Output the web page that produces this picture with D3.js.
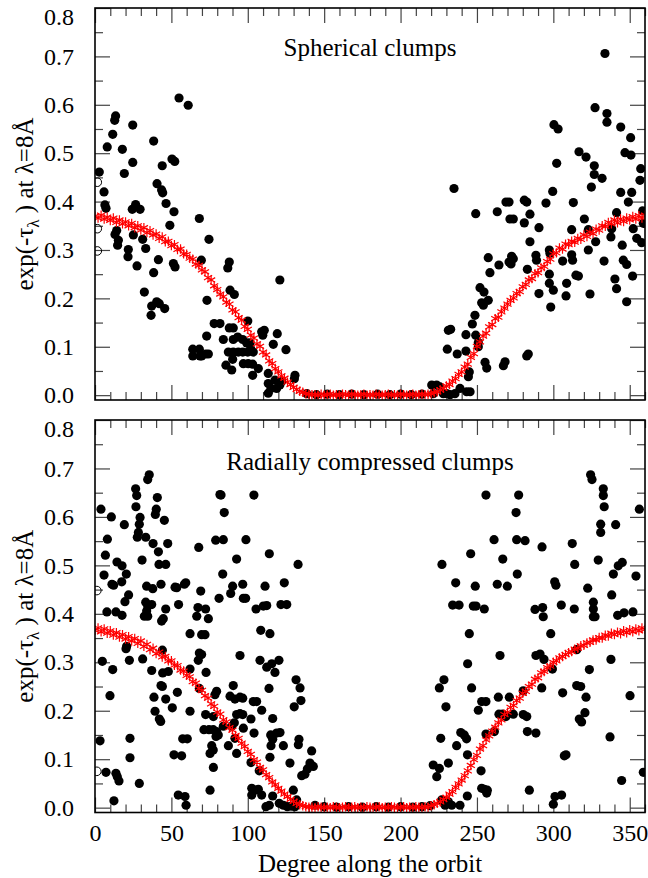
<!DOCTYPE html>
<html><head><meta charset="utf-8">
<script src="https://cdn.jsdelivr.net/npm/d3@7"></script>
<style>
body{margin:0;background:#fff}
svg{display:block}
text{font-family:"Liberation Serif","Times New Roman",serif;fill:#000}
</style>
</head><body>
<svg id="c" width="648" height="878"></svg>
<script>
// ---------------- DATA ----------------
const xMajorTicks = [0,50,100,150,200,250,300,350];
const xMinorTicks = [10,20,30,40,60,70,80,90,110,120,130,140,160,170,180,190,210,220,230,240,260,270,280,290,310,320,330,340,360];
const yMajorTicks = [0,0.1,0.2,0.3,0.4,0.5,0.6,0.7,0.8];
const yMinorTicks = [0.05,0.15,0.25,0.35,0.45,0.55,0.65,0.75];
const panelTitles = ["Spherical clumps","Radially compressed clumps"];
const xTitle = "Degree along the orbit";

// red asterisks: model values at every 2 degrees
const redAngles = d3.range(0, 361, 2);
const redSpherical = [
.370,.366,.372,.364,.368,.361,.366,.357,.362,.354,
.358,.350,.355,.346,.350,.341,.346,.336,.340,.331,
.333,.324,.327,.317,.318,.309,.311,.301,.302,.292,
.291,.283,.281,.271,.268,.259,.255,.243,.238,.226,
.218,.209,.203,.192,.188,.176,.172,.160,.155,.142,
.136,.124,.118,.106,.101,.089,.083,.071,.065,.055,
.048,.040,.035,.027,.022,.016,.012,.008,.006,.003,
.002,.001,
.001,.000,.002,.000,.001,.002,.000,.001,.000,.002,
.001,.000,.002,.001,.000,.001,.002,.000,.001,.000,
.002,.001,.000,.001,.002,.000,.001,.000,.002,.001,
.000,.001,.002,.000,.001,.002,.001,.002,
.003,.005,.007,.011,.014,.019,.022,.029,.034,.043,
.048,.058,.064,.078,.086,.101,.110,.122,.128,.141,
.146,.158,.161,.172,.180,.188,.196,.201,.210,.214,
.224,.229,.238,.241,.251,.253,.263,.266,.276,.281,
.292,.294,.304,.302,.312,.311,.318,.316,.324,.322,
.331,.328,.337,.334,.343,.341,.350,.349,.357,.354,
.362,.356,.364,.359,.366,.362,.369,.364,.371,.366,
.372];
const redCompressed = [
.366,.371,.363,.369,.360,.365,.356,.361,.352,.357,
.348,.353,.344,.349,.339,.344,.333,.337,.326,.329,
.318,.321,.311,.312,.303,.303,.294,.293,.284,.282,
.273,.270,.260,.257,.246,.242,.231,.226,.214,.209,
.197,.193,.181,.177,.165,.160,.149,.143,.133,.126,
.116,.110,.099,.094,.083,.078,.068,.062,.053,.047,
.040,.034,.028,.023,.017,.013,.009,.006,.004,.002,
.001,.001,
.000,.002,.001,.000,.001,.000,.002,.001,.000,.001,
.002,.000,.001,.002,.000,.001,.000,.002,.001,.000,
.001,.002,.000,.001,.000,.002,.001,.000,.001,.002,
.000,.001,.000,.002,.001,.000,.002,.001,
.004,.006,.009,.012,.017,.021,.028,.033,.042,.049,
.057,.066,.076,.087,.099,.108,.121,.128,.140,.148,
.158,.166,.175,.181,.192,.197,.207,.211,.221,.226,
.236,.240,.250,.255,.265,.268,.278,.281,.289,.292,
.300,.303,.309,.312,.316,.320,.322,.327,.329,.334,
.335,.340,.341,.346,.346,.351,.350,.356,.354,.360,
.357,.362,.359,.365,.361,.367,.363,.369,.365,.371,
.368];

// black dots [degree, exp(-tau)]
const dotsSpherical = [
[55,0.614],[61,0.599],[13.5,0.577],[12.9,0.568],[11.6,0.539],[24.7,0.558],[38.4,0.525],[8,0.513],[17.9,0.508],[24.7,0.481],
[19.2,0.458],[2.8,0.461],[50.4,0.488],[52.2,0.483],[44,0.474],[40.6,0.437],[43.6,0.424],[44.3,0.418],[5.9,0.42],[46.5,0.396],
[6.5,0.393],[26.6,0.394],[29.5,0.384],[24.4,0.384],[51.7,0.379],[68.3,0.365],[7.2,0.386],
[14.2,0.34],[13.1,0.332],[25.1,0.331],[15.3,0.32],[14.8,0.31],[49,0.351],[74.6,0.322],[31.2,0.322],[33.2,0.303],
[21.8,0.301],[21.6,0.286],[41.5,0.28],[51.3,0.272],[52.4,0.265],[27.5,0.267],[69.6,0.279],[38.4,0.253],[32.3,0.213],[73.3,0.196],
[37.1,0.184],[40.4,0.193],[42.1,0.189],[45.6,0.179],[36.7,0.165],[78,0.148],[81.8,0.148],[73.1,0.122],[64,0.095],[68.3,0.095],
[69.8,0.081],[72.5,0.085],[74.2,0.085],[64,0.081],[68.7,0.081],
[87.9,0.275],[86.9,0.263],[88.4,0.217],[91.2,0.208],[121,0.238],[100,0.153],[90.5,0.139],[87.9,0.139],[84,0.115],[90.5,0.115],
[93.4,0.12],[96.7,0.115],[99.3,0.108],[101.5,0.108],[109.1,0.131],[110.8,0.134],[109.8,0.124],[119.3,0.127],[116.7,0.105],[125,0.094],
[87.3,0.089],[90.5,0.089],[93.8,0.089],[96.7,0.089],[100,0.089],[103.6,0.089],[101.9,0.096],[85.7,0.062],[89.5,0.052],[90.1,0.074],
[97.1,0.065],[100.3,0.065],[103.2,0.064],[106.9,0.055],[103.2,0.041],[113.4,0.045],[130.9,0.041],[130.5,0.034],[113.4,0.024],[115.2,0.014],
[113.4,0.004],[117.8,0.031],[121,0.021],[118.9,0.014],[122.2,0.028],[138.6,0.003],
[145,0.001],[152,0.002],[160,0.001],[168,0.002],[176,0.001],[185,0.002],[193,0.001],[200,0.002],[207,0.001],[214,0.002],
[220.4,0.021],[223.6,0.021],[225.8,0.017],[230.2,0.003],[221.4,0.003],[231.3,0.134],[230.6,0.095],[228,0.003],[232.4,0.001],[235.6,0.003],
[333.8,0.706],[327.3,0.594],[335.1,0.582],[335.1,0.564],[300.4,0.559],[303.1,0.55],[344.1,0.554],[350.6,0.532],[316.8,0.503],[321.4,0.492],
[346.9,0.501],[350.8,0.496],[302.2,0.479],[326.8,0.474],[326.8,0.456],[331.9,0.448],[357.2,0.468],[356.7,0.444],[324.9,0.43],[235,0.427],
[299.6,0.421],[344.1,0.419],[351.3,0.419],[269,0.399],[271,0.399],[281,0.403],[282.6,0.399],[295.2,0.397],[313.1,0.398],[349.1,0.399],
[249.2,0.375],[263.3,0.379],[284.7,0.374],[341.4,0.377],[320.3,0.364],[271.6,0.364],[273.8,0.364],[358.5,0.381],
[281,0.356],[290.6,0.346],[312,0.342],[322.9,0.342],[327.7,0.317],[322.9,0.3],[338.2,0.344],[337.7,0.327],[352.3,0.344],[354.6,0.324],
[357.8,0.315],[358.9,0.355],[345.1,0.31],[284.7,0.317],[297.4,0.3],[297.8,0.293],[288.6,0.289],[289,0.279],[312,0.29],[312.6,0.279],
[306.1,0.277],[272.7,0.287],[273.8,0.282],[271,0.275],[272.3,0.271],[257.4,0.284],[264.4,0.269],[333.2,0.277],[345.8,0.279],[348,0.27],
[258.5,0.253],[283,0.26],[297.4,0.25],[351.9,0.246],[314.8,0.248],[316.4,0.246],[297.4,0.231],[300,0.217],[308.7,0.231],[308.3,0.205],
[290.6,0.21],[324,0.209],[340.3,0.24],[341.4,0.22],[348,0.193],[298.3,0.182],[252,0.222],[254.6,0.213],[257.4,0.196],[253.1,0.191],
[254.2,0.186],[248.7,0.165],[247,0.147],[242.8,0.125],[249.2,0.124],[232.8,0.136],[250.9,0.109],[250.9,0.1],[237.1,0.085],[242.8,0.091],
[255.3,0.068],[256.4,0.056],[268.4,0.069],[267.3,0.061],[283.6,0.085],[282.6,0.081],[245,0.048],[244.4,0.038],[238.9,0.014],[243.3,0.007],
[245.5,0.007]];
const openSpherical = [[1.5,0.44],[1.5,0.344],[1.5,0.298]];

const dotsCompressed = [
[35.5,0.687],[34.5,0.677],[26.6,0.658],[27.3,0.644],[40.8,0.64],[26.8,0.621],[3.9,0.616],[40.1,0.616],[39.5,0.605],[10.7,0.6],
[29.5,0.599],[45.4,0.593],[29,0.585],[19.2,0.584],[81.8,0.646],[28.4,0.568],[27.7,0.558],[33.2,0.558],[8.1,0.554],[47.6,0.545],
[38,0.545],[79,0.552],[67.9,0.537],[41.5,0.528],[6.8,0.521],[30.8,0.511],[14.4,0.507],[17.7,0.499],[41.9,0.502],[46.3,0.502],
[5.9,0.48],[20.5,0.482],[17.5,0.466],[11.1,0.461],[12.2,0.459],[33.8,0.457],[37.8,0.452],[43.2,0.461],[52.4,0.455],[53.5,0.454],
[58.5,0.461],[59.4,0.464],[69.2,0.447],[81.2,0.432],[22,0.439],[19.6,0.425],[33.2,0.424],[34.5,0.416],[37.1,0.419],[33.8,0.406],
[54.7,0.419],[67.4,0.413],[72.4,0.41],[7.8,0.404],[13.7,0.404],[17.7,0.397],[46.3,0.41],[32.3,0.395],[34.5,0.395],[66.6,0.395],
[74.2,0.39],[44.7,0.39],[43.6,0.385],
[62.2,0.359],[69.8,0.357],[72,0.357],[20.7,0.333],[20.3,0.328],[68.3,0.319],[69.8,0.316],[44.1,0.325],[4.8,0.302],[31.2,0.307],
[22.5,0.304],[67.6,0.304],[11.6,0.285],[37.1,0.283],[44.3,0.278],[48,0.281],[62.2,0.286],[68.3,0.246],[79.6,0.24],[43.2,0.252],
[44.1,0.25],[53.9,0.238],[9.8,0.231],[38.6,0.228],[46.3,0.224],[50.6,0.206],[62.2,0.199],[39.3,0.199],[42.1,0.183],[43,0.178],
[72.4,0.192],[77.5,0.188],[71.3,0.161],[74.6,0.161],[77.4,0.161],[79.6,0.157],[79.2,0.147],[80.7,0.15],[3.3,0.138],[22.9,0.143],
[57.4,0.142],[60.4,0.142],[76.4,0.128],[77.4,0.119],[75.3,0.112],[51.7,0.109],[56.7,0.107],[22.9,0.103],[77.5,0.083],[7.2,0.073],
[13.7,0.071],[14.6,0.064],[15.7,0.055],[29,0.05],[75.3,0.036],[54.5,0.026],[58.9,0.023],[59.6,0.005],[12.4,0.014],
[82.5,0.645],[104,0.645],[84.6,0.609],[84,0.553],[98.8,0.553],[114.1,0.524],[92.7,0.513],[132.9,0.502],[83.6,0.482],[227.1,0.502],
[123.9,0.464],[90.1,0.457],[96.7,0.461],[111.3,0.457],[88.8,0.442],[97.1,0.432],[98.6,0.432],[110.2,0.416],[112.4,0.417],[121.7,0.419],
[125.5,0.419],[105.4,0.41],
[108.5,0.366],[114.5,0.359],[94.9,0.314],[108,0.304],[112.4,0.29],[115.7,0.297],[120.4,0.304],[117.8,0.279],[72.7,0.279],[131.6,0.264],
[134.2,0.247],[134.8,0.221],[130.4,0.208],[113.9,0.246],[78.5,0.233],[90.5,0.252],[88.4,0.23],[91.6,0.224],[94.9,0.228],[96.7,0.226],
[103.6,0.219],[105.8,0.219],[109.1,0.201],[92.7,0.192],[94.9,0.194],[96.7,0.192],[102.1,0.183],[116.3,0.184],[84,0.168],[89.5,0.168],
[91.2,0.175],[97.1,0.164],[91.6,0.143],[104.1,0.154],[115,0.15],[118.9,0.154],[121.1,0.155],[116.3,0.141],[115.2,0.128],[123.3,0.128],
[133.5,0.141],[133.1,0.13],[140.7,0.092],[142.9,0.085],[139,0.08],[135.3,0.066],[137.4,0.069],[141.8,0.117],[87.3,0.128],[92.7,0.112],
[102.1,0.093],[107.5,0.076],[127.6,0.092],[114.5,0.104],[102.6,0.04],[104.7,0.036],[106.9,0.038],[109.1,0.026],[102.6,0.026],[116.3,0.024],
[111.9,0.002],[114.1,0.005],[129.8,0.036],[132,0.016],[120.6,0.009],[123.3,0.005],[125.9,0.002],[128.7,0.003],[130.9,0.002],[144,0.005],
[150,0.002],[158,0.001],[166,0.002],[175,0.001],[184,0.002],[192,0.001],[200,0.002],[208,0.001],[214,0.002],
[221.4,0.088],[225.4,0.081],[223.7,0.064],[231.3,0.092],[228.4,0.264],[225.4,0.247],[229.7,0.208],[226.3,0.143],[226.9,0.016],[229.1,0.005],
[219.3,0.004],
[324.4,0.687],[325.3,0.677],[332.7,0.658],[332.7,0.644],[255.9,0.645],[277.3,0.645],[275.6,0.609],[333.3,0.621],[356.3,0.616],[331,0.585],
[331,0.568],[340.8,0.584],[261.2,0.553],[276,0.553],[281.5,0.551],[292.6,0.538],[312.4,0.545],[245.9,0.524],[266.9,0.513],[314,0.502],
[329.4,0.511],[345.1,0.506],[342.5,0.499],[339.3,0.482],[276.4,0.482],[354.1,0.478],[236.1,0.464],[248.9,0.457],[263.3,0.461],[269.9,0.457],
[300.9,0.466],[301.7,0.459],[322.5,0.453],[338.2,0.439],[234.1,0.418],[238.3,0.418],[247.6,0.416],[249.4,0.416],[254.8,0.41],[288,0.409],
[293,0.413],[293.4,0.394],[305.2,0.418],[313.7,0.41],[326.2,0.424],[326.2,0.41],[326.2,0.394],[327.3,0.394],[342.1,0.397],[346.3,0.402],
[352.1,0.404],
[245,0.359],[298.3,0.359],[243.9,0.297],[265.1,0.314],[288.6,0.314],[291.3,0.317],[293.9,0.306],[315.3,0.326],[337.7,0.306],[299.4,0.286],
[323.6,0.285],[246.5,0.247],[292.4,0.247],[315.3,0.252],[317.9,0.25],[280.3,0.241],[306.1,0.237],[350.2,0.231],[264,0.228],[271.2,0.228],
[321.4,0.228],[253.1,0.219],[255.9,0.219],[250.9,0.201],[320.7,0.196],[264.4,0.193],[266.8,0.193],[269,0.188],[273.8,0.193],[280.3,0.192],
[282.6,0.188],[317,0.183],[318.5,0.177],[261.4,0.157],[283,0.157],[288.6,0.154],[255.9,0.152],[239.4,0.155],[241.7,0.15],[243.2,0.142],
[337.1,0.146],[236.7,0.128],[243.8,0.109],[307.2,0.107],[308.3,0.109],[252.7,0.076],[253.1,0.04],[254.8,0.038],[256.8,0.036],[256.4,0.03],
[284.3,0.036],[301.1,0.023],[300,0.007],[305.4,0.026],[344.7,0.056],[358.9,0.073],[243.7,0.024],[233.5,0.005],[238.9,0.005],[231.3,0.012]];
const openCompressed = [[1.2,0.448],[1.2,0.075]];

// ---------------- DRAW ----------------
const FONT = '"Liberation Serif","Times New Roman",serif';
const svg = d3.select("#c");
const x = d3.scaleLinear().domain([0,360]).range([95,645]);
const panels = [
  {title:panelTitles[0], dots:dotsSpherical, open:openSpherical, red:redSpherical, bottom:400, top:8, xLabels:false, titleY:56},
  {title:panelTitles[1], dots:dotsCompressed, open:openCompressed, red:redCompressed, bottom:812.5, top:420, xLabels:true, titleY:470}
];
const tickColor = "#444";

panels.forEach((p,i)=>{
  const y = d3.scaleLinear().domain([-0.01,0.8]).range([p.bottom,p.top]);
  const g = svg.append("g");
  const clipId = "clip"+i;
  svg.append("clipPath").attr("id",clipId).append("rect")
    .attr("x",x(0)).attr("y",p.top).attr("width",x(360)-x(0)).attr("height",p.bottom-p.top);

  const styleAxis = sel => {
    sel.attr("font-family",FONT).attr("font-size",24);
    sel.select(".domain").remove();
    sel.selectAll(".tick line").attr("stroke",tickColor).attr("stroke-width",1.2);
    sel.selectAll("text").style("font-family",FONT).style("font-size","24px").attr("fill","#000");
  };

  // x axes (bottom/top), major + minor
  g.append("g").attr("transform",`translate(0,${p.bottom})`)
    .call(d3.axisBottom(x).tickValues(xMajorTicks).tickSize(-15).tickPadding(11.5)
      .tickFormat(p.xLabels ? d3.format("d") : ""))
    .call(styleAxis);
  g.append("g").attr("transform",`translate(0,${p.bottom})`)
    .call(d3.axisBottom(x).tickValues(xMinorTicks).tickSize(-8).tickFormat("")).call(styleAxis);
  g.append("g").attr("transform",`translate(0,${p.top})`)
    .call(d3.axisTop(x).tickValues(xMajorTicks).tickSize(-15).tickFormat("")).call(styleAxis);
  g.append("g").attr("transform",`translate(0,${p.top})`)
    .call(d3.axisTop(x).tickValues(xMinorTicks).tickSize(-8).tickFormat("")).call(styleAxis);

  // y axes (left/right)
  const left = g.append("g").attr("transform",`translate(${x(0)},0)`)
    .call(d3.axisLeft(y).tickValues(yMajorTicks).tickSize(-15).tickPadding(21).tickFormat(d3.format(".1f")))
    .call(styleAxis);
  left.selectAll(".tick text").filter(d=>d===0.8).attr("y",9);
  g.append("g").attr("transform",`translate(${x(0)},0)`)
    .call(d3.axisLeft(y).tickValues(yMinorTicks).tickSize(-8).tickFormat("")).call(styleAxis);
  g.append("g").attr("transform",`translate(${x(360)},0)`)
    .call(d3.axisRight(y).tickValues(yMajorTicks).tickSize(-15).tickFormat("")).call(styleAxis);
  g.append("g").attr("transform",`translate(${x(360)},0)`)
    .call(d3.axisRight(y).tickValues(yMinorTicks).tickSize(-8).tickFormat("")).call(styleAxis);

  // data
  const plot = g.append("g").attr("clip-path",`url(#${clipId})`);
  plot.selectAll("circle.dot").data(p.dots).join("circle").attr("class","dot")
    .attr("cx",d=>x(d[0])).attr("cy",d=>y(d[1])).attr("r",4.6).attr("fill","#000");
  plot.selectAll("circle.open").data(p.open).join("circle").attr("class","open")
    .attr("cx",d=>x(d[0])).attr("cy",d=>y(d[1])).attr("r",4.3).attr("fill","none")
    .attr("stroke","#000").attr("stroke-width",1);
  const star = d3.symbol().type(d3.symbolAsterisk).size(62);
  plot.selectAll("path.red").data(p.red).join("path").attr("class","red")
    .attr("transform",(d,j)=>`translate(${x(redAngles[j])},${y(d)})`)
    .attr("d",star).attr("fill","none").attr("stroke","#ff0000").attr("stroke-width",1.2);

  // frame
  g.append("rect").attr("x",x(0)).attr("y",p.top).attr("width",x(360)-x(0)).attr("height",p.bottom-p.top)
    .attr("fill","none").attr("stroke","#000").attr("stroke-width",1.6);

  // panel title
  g.append("text").attr("x",370).attr("y",p.titleY).attr("text-anchor","middle")
    .style("font-size","25px").text(p.title);

  // y-axis title
  const cy = (p.top+p.bottom)/2;
  const yt = g.append("text").attr("transform",`translate(33,${cy}) rotate(-90)`)
    .attr("text-anchor","middle").style("font-size","25px");
  yt.append("tspan").text("exp(-τ");
  yt.append("tspan").attr("dy",6).style("font-size","17px").text("λ");
  yt.append("tspan").attr("dy",-6).text(" ) at λ=8Å");
});

svg.append("text").attr("x",370).attr("y",871.5).attr("text-anchor","middle")
  .style("font-size","25px").text(xTitle);
</script>
</body></html>
